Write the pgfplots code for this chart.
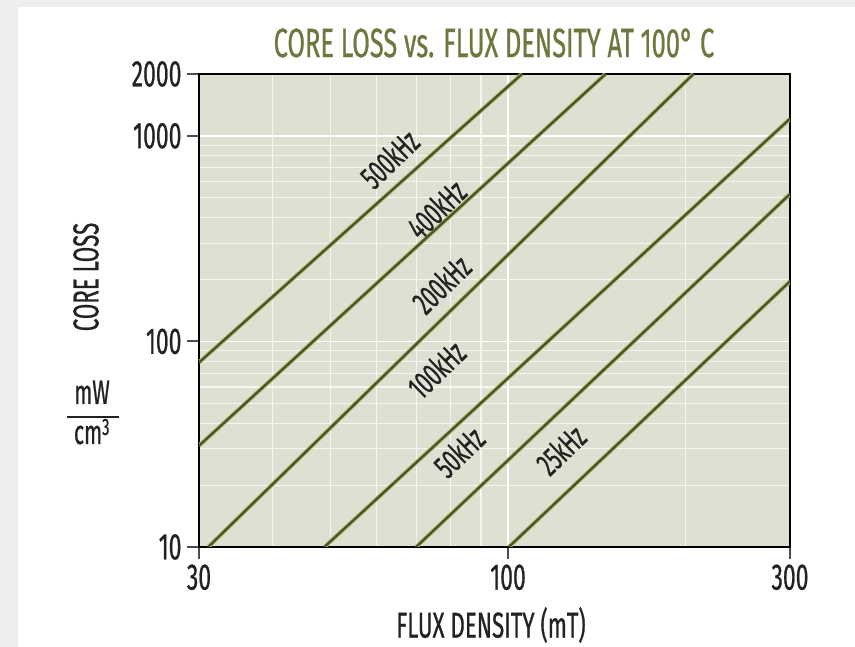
\documentclass[border=0pt]{standalone}
\usepackage{fontspec}
\setmainfont{Fira Sans}[FakeStretch=0.62, FakeBold=0.6]
\usepackage{pgfplots}
\pgfplotsset{compat=1.18}
\definecolor{plotbg}{RGB}{224,224,210}
\definecolor{olivedark}{RGB}{74,84,38}
\definecolor{olivelight}{RGB}{184,194,128}
\definecolor{titlecol}{RGB}{108,120,62}
\definecolor{framegray}{RGB}{238,238,238}
\definecolor{txt}{RGB}{34,34,34}
\begin{document}
\begin{tikzpicture}[x=1pt,y=1pt]
\path[use as bounding box] (-199,-100) rectangle (656,547);
\fill[white] (-199,-100) rectangle (656,547);
\fill[framegray] (-199,-100) rectangle (-181,547);
\fill[framegray] (-199,540) rectangle (656,547);
\begin{axis}[
  at={(0,0)}, anchor=south west, scale only axis,
  width=591pt, height=473pt,
  xmode=log, ymode=log,
  xmin=30, xmax=300, ymin=10, ymax=2000,
  xtick={30,100,300}, xticklabels={30,100,300},
  ytick={10,100,1000,2000}, yticklabels={10,100,1000,2000},
  minor xtick={40,50,60,70,80,90,200},
  minor ytick={20,30,40,50,60,70,80,90,200,300,400,500,600,700,800,900},
  /pgf/number format/assume math mode=true,
  grid=both,
  major grid style={white, line width=1.6pt},
  minor grid style={white, opacity=0.7, line width=1.1pt},
  axis background/.style={fill=plotbg},
  axis line style={black, line width=2.5pt},
  tick pos=left,
  tick align=outside,
  major tick length=12pt,
  minor tick length=0pt,
  major tick style={draw=black!70, line width=2pt},
  tick label style={font=\fontsize{37}{40}\selectfont, text=txt},
  xticklabel style={yshift=-2pt},
  yticklabel style={xshift=-2pt},
  curve/.style={color=olivedark, no markers, solid, line width=2.4pt,
     preaction={draw=olivelight, line width=4.4pt}},
  clip=true,
]
\addplot[curve] coordinates {(30,79.0) (105.6,2000)};
\addplot[curve] coordinates {(30,31.1) (146.3,2000)};
\addplot[curve] coordinates {(31.1,10) (205.9,2000)};
\addplot[curve] coordinates {(48.9,10) (300,1211)};
\addplot[curve] coordinates {(69.9,10) (300,521)};
\addplot[curve] coordinates {(100.3,10) (300,196)};
\begin{scope}[every node/.style={font=\fontsize{33}{35}\selectfont, text=txt, rotate=44, inner sep=1pt}]
\node at (axis cs:63.0,773) {500kHz};
\node at (axis cs:75.6,440) {400kHz};
\node at (axis cs:77.1,190) {200kHz};
\node at (axis cs:75.6,73) {100kHz};
\node at (axis cs:82.6,29) {50kHz};
\node at (axis cs:122.8,29.7) {25kHz};
\end{scope}
\end{axis}
\node[text=titlecol, font=\fontsize{41}{44}\selectfont] at (295,504) {CORE LOSS vs. FLUX DENSITY AT 100° C};
\node[text=txt, font=\fontsize{36}{40}\selectfont] at (292,-78) {FLUX DENSITY (mT)};
\node[text=txt, font=\fontsize{36}{40}\selectfont, rotate=90] at (-113,270) {CORE LOSS};
\node[text=txt, font=\fontsize{34}{36}\selectfont, inner sep=0pt, anchor=base] at (-107,143) {mW};
\fill[txt] (-132,129) rectangle (-80,131);
\node[text=txt, font=\fontsize{34}{36}\selectfont, inner sep=0pt, anchor=base] at (-107,103) {cm\textsuperscript{3}};
\end{tikzpicture}
\end{document}
